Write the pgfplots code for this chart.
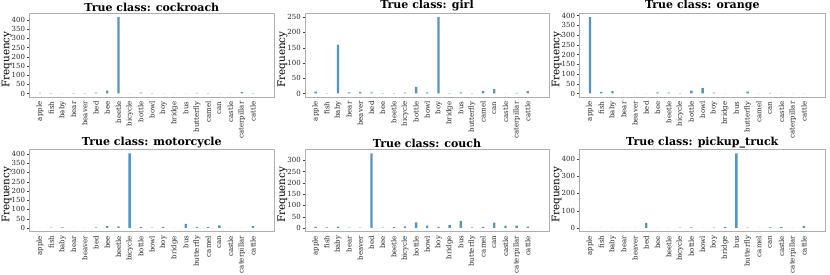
\documentclass[border=0pt]{standalone}
\usepackage{fontspec}
\setmainfont{DejaVu Serif}
\usepackage{pgfplots}
\pgfplotsset{compat=1.18}
\definecolor{barc}{RGB}{80,150,200}
\definecolor{framec}{RGB}{175,175,175}
\pgfplotsset{
 panel/.style={
  scale only axis,
  anchor=south west,
  xmin=-0.95,xmax=20.9,
  xtick={0,...,19},
  xticklabels={apple,fish,baby,bear,beaver,bed,bee,beetle,bicycle,bottle,bowl,boy,bridge,bus,butterfly,camel,can,castle,caterpillar,cattle},
  x tick label style={rotate=90,anchor=east,font=\fontsize{7}{8}\selectfont,inner sep=1.5pt,text=black!85},
  y tick label style={font=\fontsize{7}{8}\selectfont,inner sep=1.5pt,text=black!85},
  /pgf/number format/assume math mode=true,
  ylabel={Frequency},
  ylabel style={font=\fontsize{10.4}{11}\selectfont,at={(axis description cs:-0.092,0.45)},anchor=center,rotate=0},
  title style={font=\fontsize{11}{12}\selectfont\bfseries,yshift=-7.5pt},
  axis line style={framec},
  ytick style={black!75},
  xtick style={draw=none},
  ytick pos=left, tick align=outside, major tick length=2.5pt,
  ybar, bar width=0.21,
  scaled y ticks=false,
 },
 bars/.style={fill=barc,draw=none}
}
\begin{document}
\begin{tikzpicture}
\path[use as bounding box] (0,0) rectangle (830pt,275pt);
% Row 1
\begin{axis}[panel, at={(29.3pt,177.7pt)}, width=245pt, height=84pt,
  title={True class: cockroach}, ymin=-20.75, ymax=435.75, ytick={0,50,...,400}]
\addplot[bars] coordinates {(0,3) (1,2) (2,1) (3,2) (4,2) (5,4) (6,15) (7,415) (8,1) (9,4) (10,2) (11,0) (12,1) (13,0) (14,3) (15,2) (16,1) (17,0) (18,8) (19,2)};
\end{axis}
\begin{axis}[panel, at={(305pt,177.7pt)}, width=244pt, height=84pt,
  title={True class: girl}, ymin=-12.5, ymax=262.5, ytick={0,50,...,250}]
\addplot[bars] coordinates {(0,6) (1,1) (2,160) (3,4) (4,5) (5,4) (6,1) (7,1) (8,3) (9,22) (10,4) (11,250) (12,1) (13,4) (14,1) (15,8) (16,14) (17,0) (18,2) (19,8)};
\end{axis}
\begin{axis}[panel, at={(579.3pt,177.7pt)}, width=246pt, height=84pt,
  title={True class: orange}, ymin=-19.6, ymax=411.6, ytick={0,50,...,400}]
\addplot[bars] coordinates {(0,392) (1,8) (2,12) (3,1) (4,0) (5,1) (6,6) (7,5) (8,2) (9,15) (10,27) (11,4) (12,1) (13,0) (14,10) (15,1) (16,3) (17,0) (18,0) (19,0)};
\end{axis}
% Row 2
\begin{axis}[panel, at={(29.3pt,43.3pt)}, width=245pt, height=82pt,
  title={True class: motorcycle}, ymin=-20.1, ymax=422.1, ytick={0,50,...,400}]
\addplot[bars] coordinates {(0,0) (1,2) (2,3) (3,0) (4,0) (5,3) (6,10) (7,8) (8,402) (9,5) (10,2) (11,6) (12,0) (13,22) (14,6) (15,4) (16,14) (17,0) (18,0) (19,10)};
\end{axis}
\begin{axis}[panel, at={(305pt,43.3pt)}, width=244pt, height=82pt,
  title={True class: couch}, ymin=-16.5, ymax=346.5, ytick={0,50,...,300}]
\addplot[bars] coordinates {(0,5) (1,3) (2,6) (3,1) (4,1) (5,330) (6,1) (7,4) (8,7) (9,25) (10,10) (11,5) (12,13) (13,31) (14,3) (15,5) (16,24) (17,10) (18,10) (19,6)};
\end{axis}
\begin{axis}[panel, at={(579.3pt,43.3pt)}, width=246pt, height=82pt,
  title={True class: pickup\_truck}, ymin=-21.5, ymax=451.5, ytick={0,100,...,400}]
\addplot[bars] coordinates {(0,0) (1,1) (2,0) (3,0) (4,0) (5,30) (6,1) (7,0) (8,2) (9,3) (10,0) (11,2) (12,7) (13,430) (14,2) (15,1) (16,3) (17,5) (18,0) (19,10)};
\end{axis}
\end{tikzpicture}
\end{document}
